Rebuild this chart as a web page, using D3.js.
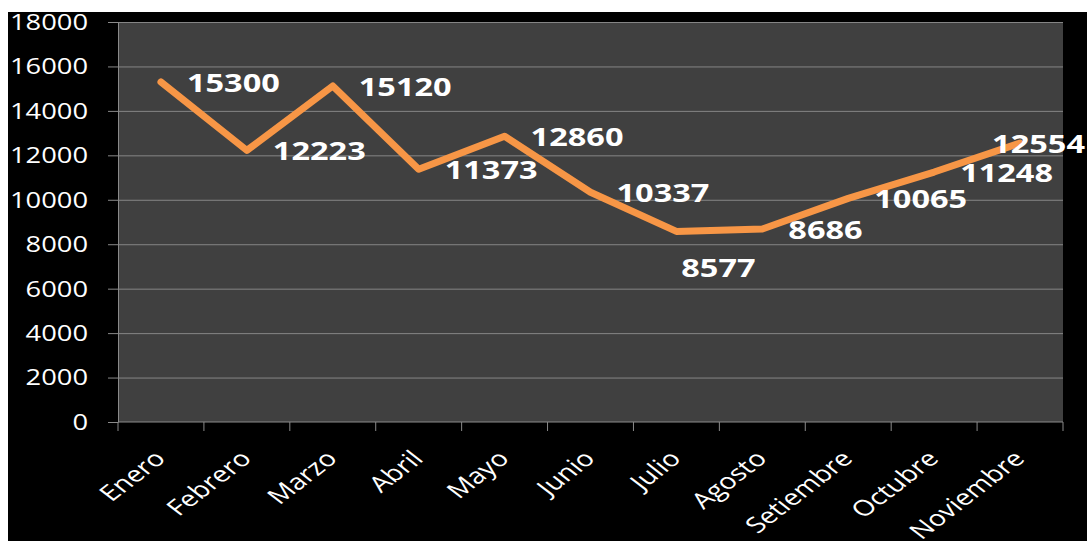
<!DOCTYPE html>
<html>
<head>
<meta charset="utf-8">
<script src="https://cdn.jsdelivr.net/npm/d3@7"></script>
<style>
  html, body { margin: 0; padding: 0; background: #fff; }
  svg { display: block; }
  text { font-family: "Open Sans", sans-serif; fill: #fff; }
</style>
</head>
<body>
<div id="chart"></div>
<script>
// data
const months = ["Enero", "Febrero", "Marzo", "Abril", "Mayo", "Junio", "Julio", "Agosto", "Setiembre", "Octubre", "Noviembre"];
const values = [15300, 12223, 15120, 11373, 12860, 10337, 8577, 8686, 10065, 11248, 12554];
const labelPlacement = ["right", "right", "right", "right", "right", "right", "below", "right", "right", "right", "right"];
const yTicks = [0, 2000, 4000, 6000, 8000, 10000, 12000, 14000, 16000, 18000];

const W = 1087, H = 541;
const margin = {top: 22, right: 24, bottom: 119, left: 118};
const stretch = 1.3; // original picture is stretched horizontally

const svg = d3.select("#chart").append("svg")
  .attr("width", W).attr("height", H);

// white strip top/left, then black background
svg.append("rect").attr("width", W).attr("height", H).attr("fill", "#fff");
svg.append("rect").attr("x", 8).attr("y", 12)
  .attr("width", W - 8).attr("height", H - 12).attr("fill", "#000");

const xScale = d3.scaleBand().domain(months)
  .range([margin.left, W - margin.right]);
const yScale = d3.scaleLinear().domain([0, 18000])
  .range([H - margin.bottom, margin.top]);

// plot area
svg.append("rect")
  .attr("x", margin.left).attr("y", margin.top)
  .attr("width", W - margin.left - margin.right)
  .attr("height", H - margin.top - margin.bottom)
  .attr("fill", "#404040");

// gridlines
svg.append("g")
  .attr("transform", "translate(" + margin.left + ",0)")
  .call(d3.axisLeft(yScale).tickValues(yTicks.filter(d => d > 0))
    .tickSize(-(W - margin.left - margin.right)).tickFormat(""))
  .call(g => g.select(".domain").remove())
  .call(g => g.selectAll("line").attr("stroke", "#858585").attr("stroke-width", 1));

// y axis
svg.append("g")
  .attr("class", "y axis")
  .attr("transform", "translate(" + margin.left + ",0)")
  .call(d3.axisLeft(yScale).tickValues(yTicks).tickSize(10).tickSizeOuter(0)
    .tickFormat(d3.format("d")))
  .call(g => g.select(".domain").attr("stroke", "#8a8a8a"))
  .call(g => g.selectAll("line").attr("stroke", "#8a8a8a"))
  .call(g => g.selectAll("text")
    .attr("x", null).attr("dy", "0.35em")
    .attr("transform", "translate(-30,0) scale(" + stretch + ",1)")
    .style("font-size", "21px").attr("fill", "#fff"));

// x axis: line, ticks on category boundaries, rotated labels
const xAxisG = svg.append("g")
  .attr("class", "x axis")
  .attr("transform", "translate(0," + (H - margin.bottom) + ")");

xAxisG.append("line")
  .attr("x1", margin.left).attr("x2", W - margin.right)
  .attr("stroke", "#8a8a8a");

const bounds = months.map(m => xScale(m)).concat([xScale.range()[1]]);
xAxisG.selectAll(".tick-b").data(bounds).enter()
  .append("line")
  .attr("class", "tick-b")
  .attr("x1", d => d).attr("x2", d => d)
  .attr("y1", 0).attr("y2", 9)
  .attr("stroke", "#8a8a8a");

xAxisG.selectAll(".xlabel").data(months).enter()
  .append("text")
  .attr("class", "xlabel")
  .attr("text-anchor", "end")
  .attr("transform", d => "translate(" + (xScale(d) + xScale.bandwidth() / 2 + 6) + ",38) scale(" + stretch + ",1) rotate(-45)")
  .style("font-size", "22px")
  .text(d => d);

// line
const pts = months.map((m, i) => ({month: m, value: values[i], pos: labelPlacement[i]}));
const line = d3.line()
  .x(d => xScale(d.month) + xScale.bandwidth() / 2)
  .y(d => yScale(d.value));

svg.append("path")
  .datum(pts)
  .attr("d", line)
  .attr("fill", "none")
  .attr("stroke", "#F79646")
  .attr("stroke-width", 7)
  .attr("stroke-linejoin", "round")
  .attr("stroke-linecap", "round");

// data labels
svg.selectAll(".dlabel").data(pts).enter()
  .append("text")
  .attr("class", "dlabel")
  .style("font-size", "25px")
  .style("font-weight", "bold")
  .attr("dy", "0.35em")
  .text(d => d.value)
  .each(function(d) {
    const cx = xScale(d.month) + xScale.bandwidth() / 2;
    const cy = yScale(d.value);
    const w = this.getComputedTextLength() * stretch;
    let x, y;
    if (d.pos === "below") {
      x = cx + 42 - w / 2;
      y = cy + 37;
    } else {
      x = cx + 26;
      y = cy + 1;
    }
    x = Math.min(x, W - 2 - w);
    d3.select(this).attr("transform", "translate(" + x + "," + y + ") scale(" + stretch + ",1)");
  });
</script>
</body>
</html>
